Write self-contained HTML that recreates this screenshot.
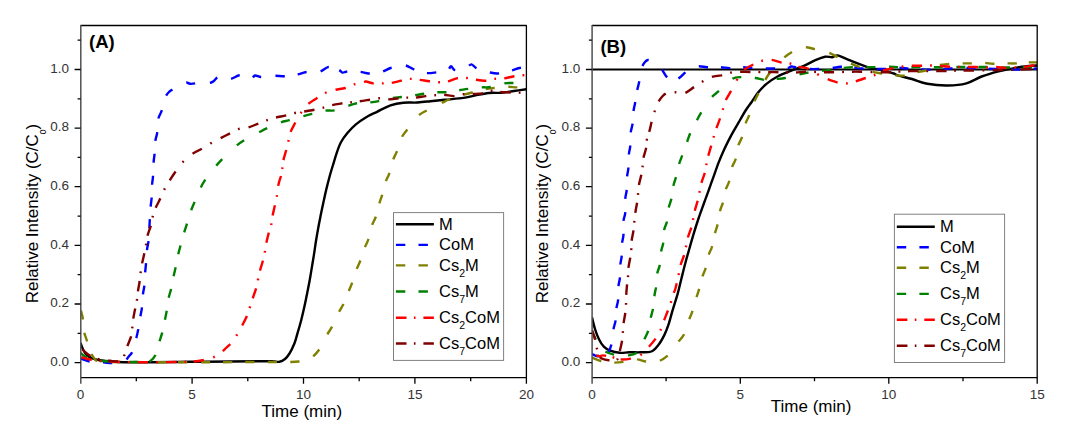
<!DOCTYPE html>
<html><head><meta charset="utf-8"><style>html,body{margin:0;padding:0;background:#fff;}svg{display:block}</style></head>
<body><svg width="1068" height="442" viewBox="0 0 1068 442">
<rect width="1068" height="442" fill="#fff"/>
<clipPath id="ca"><rect x="80.6" y="25.5" width="445.79999999999995" height="352.2"/></clipPath>
<g clip-path="url(#ca)" fill="none" stroke-linejoin="round">
<path d="M80.6 343C81 344.1 82.2 347.7 83.2 349.7C84.2 351.7 85.4 353.8 86.9 355.2C88.4 356.6 90.2 357.6 92.3 358.4C94.4 359.2 96.2 359.7 99.5 360.2C102.8 360.7 108.3 361.2 112.2 361.5C116.1 361.8 116.7 362.1 123 362.2C129.3 362.3 138.8 362.3 150 362.2C161.2 362.1 176.7 361.9 190 361.8C203.3 361.7 219.2 361.6 230 361.5C240.8 361.4 248 361.3 255 361.3C262 361.3 267.9 361.2 272 361.3C276.1 361.4 277.3 362.2 279.5 361.8C281.7 361.4 283.3 360.4 285 359C286.7 357.6 287.9 356 289.5 353.5C291.1 351 292.9 347.2 294.3 343.8C295.7 340.4 296.5 336.7 297.6 332.8C298.8 328.9 300.2 324.1 301.2 320.2C302.2 316.3 303 312.9 303.8 309.3C304.6 305.7 305.4 302 306.1 298.4C306.9 294.8 307.6 291.2 308.3 287.6C309 284 309.7 280.3 310.3 276.7C310.9 273.1 311.5 269.6 312.1 265.9C312.7 262.2 313.3 258.7 314 254.4C314.7 250.1 315.3 244.9 316.1 240.2C316.9 235.5 317.8 230.4 318.6 226C319.4 221.6 320.2 217.9 321 213.8C321.8 209.7 322.7 205.7 323.6 201.6C324.5 197.5 325.3 193.5 326.3 189.4C327.3 185.3 328.3 181.3 329.4 177.2C330.5 173.1 331.8 168.9 333 165C334.2 161.1 335.2 157.3 336.5 153.6C337.8 149.8 339 145.9 340.8 142.5C342.6 139.1 344.9 136 347.4 133C349.9 130 352.8 126.9 355.9 124.3C359 121.7 362.7 119.3 366.2 117.2C369.7 115.1 372.9 113.8 377 111.8C381.1 109.8 386.1 106.9 390.5 105.4C394.9 103.9 398.7 103.2 403.2 102.7C407.7 102.2 413.1 102.8 417.6 102.5C422.1 102.2 425.8 101.7 430.3 101.2C434.8 100.8 439.3 100.3 444.8 99.8C450.3 99.2 458.5 98.6 463.4 97.9C468.3 97.2 470.1 96.4 474.3 95.6C478.5 94.8 484.3 93.5 488.8 93C493.3 92.5 497.2 93.1 501.4 92.8C505.6 92.5 509.8 91.6 514 91C518.2 90.4 524.3 89.5 526.4 89.2" stroke="#000000" stroke-width="2.4"/>
<path d="M80.6 358.4C82.1 358.9 85.9 360.8 89.6 361.5C93.3 362.2 99.3 362.1 103 362.4C106.7 362.6 108.8 363 112 363C115.2 363 119.7 363.1 122 362.6C124.3 362.1 124.8 361.2 126 360C127.2 358.8 128.4 356.9 129.5 355.5C130.6 354.1 131.2 354.5 132.3 351.6C133.4 348.7 135.3 341.8 136.3 338C137.3 334.2 137.6 332.7 138.3 329C139 325.3 139.9 319.2 140.5 315.7C141.1 312.2 141.5 311.5 141.9 307.9C142.3 304.3 142.6 297.6 143 294C143.4 290.4 143.9 289.8 144.3 286.2C144.7 282.6 144.9 276 145.2 272.2C145.5 268.4 145.7 267.2 146 263.5C146.3 259.8 146.6 253.6 147 250C147.4 246.4 148.1 244.1 148.4 241.8C148.7 239.5 148.8 239.7 149 236C149.2 232.3 149.5 224.8 149.8 219.8C150.1 214.8 150.4 209.8 150.7 206.2C151 202.6 151.4 201.6 151.6 198C151.8 194.4 151.9 188.1 152.1 184.5C152.3 180.9 152.8 180 153 176.3C153.2 172.6 153.3 166.1 153.6 162.4C153.8 158.7 154.2 157.9 154.5 154.3C154.8 150.7 155 144.3 155.4 140.7C155.8 137.1 156.8 136.1 157.2 132.6C157.6 129.1 157.3 123.3 158.1 119.6C158.8 115.9 160.5 114.3 161.7 110.6C162.9 106.9 164.1 100.5 165.3 97.4C166.6 94.3 167.8 93.2 169.2 91.8C170.6 90.4 171.7 90.2 173.5 89.2C175.3 88.2 177.9 86.6 180 85.5C182.1 84.4 184.3 82.8 186 82.5C187.7 82.2 188.5 83.6 190 83.8C191.5 84 193 83.8 195 83.4C197 83 199.8 81.6 202 81.5C204.2 81.4 206.7 83 208.5 83C210.3 83 211.4 82.5 213 81.6C214.6 80.7 216 77.9 217.8 77.4C219.6 76.9 221.9 78.2 224 78.5C226.1 78.8 227.9 79.5 230.5 79C233.1 78.5 236.9 75.6 239.5 75.3C242.1 75 243.9 76.5 246 77C248.1 77.5 250.5 78.2 252 78C253.5 77.8 253.5 75.7 255 75.5C256.5 75.3 258.8 76.9 261 77C263.2 77.1 265.7 76.2 268 76C270.3 75.8 272.2 75.7 274.8 75.7C277.4 75.7 281.4 76.2 283.9 76.2C286.4 76.2 287.7 75.8 290 75.5C292.3 75.2 294.9 75 297.5 74.4C300.1 73.9 303 72.6 305.4 72.2C307.8 71.8 309.6 72.1 312 72C314.4 71.9 317.2 72.5 319.9 71.7C322.6 70.9 325.8 67.6 328 67.1C330.2 66.6 331.2 68 333 68.5C334.8 69 337.3 69.2 338.9 69.9C340.5 70.6 341.3 72.3 342.5 72.6C343.7 72.9 344.5 71.9 346.1 71.7C347.7 71.5 349.7 71.5 352 71.5C354.3 71.5 356.9 71.4 359.7 71.7C362.5 72 366.1 73.3 368.7 73.5C371.2 73.7 372.7 73.3 375 73C377.3 72.7 379.7 72.5 382.3 71.7C384.9 70.9 387.9 68.8 390.5 68C393.1 67.2 395.6 67.5 398 67C400.4 66.5 402.5 65 405 65.3C407.5 65.6 410.5 67.9 413 69C415.5 70.1 417.8 71.3 420 72C422.2 72.7 423.9 73 426.3 73.1C428.7 73.2 432.1 72.9 434.5 72.6C436.9 72.3 438.8 72 441 71.5C443.2 71 446.3 70.8 448 69.9C449.7 69 449.9 66.2 451 66.2C452.1 66.2 452.9 69.4 454.4 69.9C455.9 70.5 457.9 70 460 69.5C462.1 69 465.1 67.9 467 67.1C468.9 66.2 470 64.2 471.5 64.4C473 64.6 474.4 67 476.1 68C477.9 69 479.9 69.8 482 70.5C484.1 71.2 486.3 71.7 488.8 72.2C491.3 72.7 494.6 73.5 497 73.5C499.4 73.5 500.8 73 503 72.5C505.2 72 507.8 71.5 510.5 70.8C513.2 70 516.9 68.7 519.5 68C522.1 67.3 525.2 66.8 526.4 66.5" stroke="#0000ff" stroke-width="2.4" stroke-dasharray="0.0 0.4 9.2 13.4 9.2 15.5 9.2 14.6 9.2 12.9 9.2 12.8 9.2 13.2 9.2 12.9 9.2 12.9 9.2 12.6 9.2 12.6 9.2 12.9 9.2 12.7 9.2 13.4 9.2 14.9 9.2 15.4 9.2 15.1 9.2 14.2 9.2 13.7 9.2 14.4 9.2 13.1 9.2 14.2 9.2 11.0 9.2 13.2 9.2 13.7 9.2 14.6 9.2 13.4 9.2 13.7 9.2 14.6 9.2 14.0 9.2 13.5 9.2 801.8"/>
<path d="M80.8 310C81 310.7 81.4 312.4 81.8 314C82.2 315.6 82.6 316.7 83 319.8C83.4 322.9 83.8 329.6 84.3 332.5C84.8 335.4 85.2 335.5 85.7 337C86.2 338.5 86.6 339.8 87.2 341.6C87.8 343.4 88.8 345.9 89.5 348C90.2 350.1 90.8 352.3 91.5 354C92.2 355.7 93.1 356.8 94 358C94.9 359.2 95.2 360.3 97 361C98.8 361.7 101.2 361.8 105 362C108.8 362.2 110.8 362 120 362C129.2 362 143.3 362.2 160 362.2C176.7 362.2 205.8 362.2 220 362.2C234.2 362.2 235.9 362 245.4 362C254.9 362 269.5 362 277 362C284.5 362 287 362.1 290.6 362C294.2 361.9 296.4 361.8 298.8 361.5C301.2 361.2 302.7 361.2 305 360.5C307.3 359.8 310 358.9 312.4 357C314.8 355.1 317.2 352.5 319.6 348.9C322 345.3 324.7 339.1 326.8 335.3C328.9 331.5 330.3 330 332.3 326.2C334.3 322.4 336.7 316.5 338.6 312.7C340.5 308.9 342 307.1 343.7 303.6C345.4 300.1 347.2 295.1 348.6 291.6C350 288.1 350.9 286.3 352.2 282.5C353.5 278.7 355.3 272.6 356.7 269C358.1 265.4 358.9 264.4 360.3 260.8C361.7 257.2 363.4 251.1 364.8 247.5C366.2 243.9 367.3 242.7 368.5 239C369.7 235.3 370.9 228.9 372.1 225.2C373.3 221.5 374.5 220.6 375.7 217C376.9 213.4 378.2 207.1 379.3 203.5C380.4 199.9 380.9 198.9 382 195.3C383.1 191.7 384.5 185.5 385.7 181.8C386.9 178.1 388.1 177 389.3 173.3C390.6 169.6 391.9 163.3 393.2 159.7C394.4 156.1 395.4 155.2 396.8 151.6C398.2 148 399.6 141.8 401.4 138C403.2 134.2 405 132.6 407.7 129C410.4 125.4 414.3 119.5 417.6 116.3C420.9 113.1 423.7 112.2 427.6 110C431.5 107.8 437.3 105.2 441 103.4C444.7 101.6 446.3 100.4 450 99C453.7 97.6 459.6 95.9 463.4 94.8C467.1 93.7 468.9 93.4 472.5 92.5C476.1 91.6 481.6 90 485.2 89.2C488.8 88.5 490.4 88.4 494.2 88C498 87.6 504 86.8 507.8 86.7C511.6 86.6 513.7 87.4 516.8 87.4C519.9 87.5 524.8 87.1 526.4 87" stroke="#808000" stroke-width="2.4" stroke-dasharray="0.0 0.6 9.2 13.2 9.2 13.3 9.2 13.8 9.2 13.8 9.2 13.8 9.2 12.0 9.2 13.5 9.2 12.9 9.2 13.2 9.2 13.2 9.2 13.4 9.2 14.9 9.2 17.0 9.2 16.2 9.2 13.9 9.2 14.4 9.2 14.0 9.2 14.2 9.2 13.6 9.2 14.0 9.2 13.7 9.2 15.1 9.2 18.4 9.2 16.7 9.2 14.6 9.2 13.2 9.2 13.5 9.2 750.9"/>
<path d="M80.6 353C81.5 353.7 83.6 355.8 86 357C88.4 358.2 91 359.2 95 360C99 360.8 104.2 361.2 110 361.5C115.8 361.8 124 361.9 130 362C136 362.1 142.7 362.1 146 362C149.3 361.9 148.2 362.6 149.8 361.5C151.4 360.4 153.9 358.4 155.5 355.1C157.1 351.8 158.3 345.4 159.4 341.6C160.5 337.9 161.3 336.2 162.2 332.6C163.1 329 164.2 323.5 164.9 319.9C165.7 316.3 166.1 314.6 166.7 310.9C167.3 307.2 168 301.5 168.7 297.9C169.4 294.3 170.2 292.8 171 289.2C171.8 285.6 172.8 279.8 173.6 276.2C174.4 272.6 174.8 271.2 175.6 267.5C176.4 263.8 177.5 257.7 178.3 254.1C179.1 250.5 179.5 249.4 180.5 245.8C181.5 242.2 183.1 236.1 184.2 232.4C185.3 228.8 185.8 227.5 186.9 223.9C188 220.3 189.7 214.4 191 210.7C192.3 207 193.1 205.5 194.7 201.7C196.3 197.9 198.7 191.8 200.5 188.1C202.3 184.4 203.1 182.9 205.5 179.4C207.9 175.9 212.1 170.6 215.1 167C218.1 163.4 219.8 161.4 223.3 157.9C226.8 154.4 232.3 149.2 235.9 146.2C239.5 143.2 241.2 142.1 245 139.8C248.8 137.5 254.8 134.6 258.6 132.6C262.4 130.6 263.9 129.7 267.6 128C271.3 126.3 277.4 123.6 281 122.3C284.6 121 285.6 121.2 289.3 120.2C293.1 119.2 299.7 117.1 303.5 116.1C307.3 115 308.7 114.8 312.3 113.9C315.9 113 321.6 111.2 325.3 110.6C329 110 330.5 111.1 334.3 110.3C338.1 109.5 344.1 107.2 347.9 106C351.7 104.8 353.2 103.9 357 103.3C360.8 102.7 366.9 102.8 370.5 102.4C374.1 102.1 374.9 102 378.7 101.2C382.5 100.5 389.4 98.6 393.2 97.9C397 97.2 397.7 97.5 401.3 97C404.9 96.5 411.1 95.7 414.9 95.2C418.7 94.7 420.2 94.3 424 93.8C427.8 93.3 433.8 92.6 437.5 92.3C441.2 92 442.8 92.4 446.4 92.1C450 91.8 455.3 90.8 458.9 90.3C462.5 89.8 464.2 89.4 468 88.9C471.8 88.4 477.7 87.7 481.5 87.4C485.3 87.1 486.8 87.7 490.6 87C494.4 86.3 500.4 84.1 504.2 83.4C508 82.7 509.5 83.2 513.2 83C516.9 82.8 524.2 82.2 526.4 82" stroke="#008000" stroke-width="2.4" stroke-dasharray="0.0 0.0 8.3 13.4 9.2 19.3 9.2 11.6 9.2 14.1 9.2 13.1 9.2 13.0 9.2 13.0 9.2 13.2 9.2 13.5 9.2 13.9 9.2 15.5 9.2 17.6 9.2 19.7 9.2 16.8 9.2 14.9 9.2 14.0 9.2 13.6 9.2 14.3 9.2 13.2 9.2 13.9 9.2 13.2 9.2 13.2 9.2 12.8 9.2 13.5 9.2 13.9 9.2 709.6"/>
<path d="M80.6 357C82.2 357.4 87.3 359 90.5 359.7C93.7 360.4 95.1 360.6 100 361C104.9 361.4 110 361.8 120 362C130 362.2 147.7 362.3 160 362.2C172.3 362.1 186.4 361.9 193.8 361.5C201.2 361.1 201.5 360.3 204.7 359.7C207.9 359.1 210.1 358.8 212.8 357.6C215.5 356.4 218.8 354.1 221 352.5C223.2 350.9 224.2 349.7 226 348C227.8 346.3 229.9 344.8 231.8 342.5C233.7 340.2 235.5 337.1 237.2 334.4C238.9 331.7 240.1 329.4 241.8 326.2C243.5 323 245.8 318.6 247.2 315.4C248.5 312.2 249 310 249.9 307.2C250.8 304.4 251.6 302 252.6 298.8C253.6 295.6 255.3 291.2 256.2 288C257.1 284.8 257.4 282.4 258 279.5C258.6 276.6 259.1 273.9 259.9 270.8C260.7 267.7 262.1 263.9 262.9 260.8C263.7 257.7 264.2 255.2 264.8 252.3C265.4 249.4 265.5 246.9 266.2 243.6C266.9 240.3 268 235.6 268.9 232.4C269.8 229.2 270.7 227 271.3 224.3C271.9 221.6 271.9 219.4 272.5 216.2C273.1 213 274.2 208.5 274.9 205.3C275.6 202.1 276.1 200.6 276.7 197.1C277.3 193.6 277.8 188 278.5 184.4C279.2 180.8 280.6 177.8 281.2 175.3C281.8 172.8 281.9 171.6 282.2 169.2C282.5 166.8 282.5 164.2 283.2 161C283.9 157.8 285.4 153.1 286.3 149.9C287.2 146.7 287.6 144.6 288.3 141.7C289 138.8 289.1 135.8 290.3 132.6C291.5 129.4 293.8 125.5 295.4 122.4C297 119.4 298.2 117.2 300.1 114.3C302 111.4 303.5 108.1 306.6 105.2C309.7 102.3 315.5 99.1 318.8 97C322.1 94.9 323.5 93.7 326.2 92.5C328.9 91.3 332 90.5 335.2 89.8C338.4 89 342 88.9 345.2 88C348.4 87.1 351.3 85.2 354.3 84.3C357.3 83.4 361.4 83 363.3 82.5C365.2 82 364.3 81.3 366 81.5C367.7 81.7 370.6 83.1 373.3 83.4C376 83.7 379.3 83.5 382.3 83.4C385.3 83.3 388.2 83.5 391.4 83C394.6 82.5 398.1 81.4 401.3 80.7C404.5 80 407.4 79.1 410.4 78.9C413.4 78.8 416.2 79.4 419.4 79.8C422.6 80.2 426.2 80.9 429.4 81.3C432.5 81.7 435.4 82.2 438.3 82.2C441.2 82.2 443.8 82.3 447.1 81.6C450.4 80.9 454.7 78.6 458 78C461.3 77.4 463.8 77.8 466.7 78C469.6 78.2 472 79 475.2 79.5C478.4 80 482.8 80.8 486 80.7C489.2 80.6 491.3 79.2 494.2 78.9C497.1 78.6 500 79 503.3 78.6C506.6 78.1 510.9 76.8 514.1 76.2C517.4 75.7 520.8 75.5 522.8 75.3C524.8 75.1 525.8 75 526.4 75" stroke="#ff0000" stroke-width="2.4" stroke-dasharray="0.0 1.0 10.4 8.1 1.8 8.1 10.4 8.0 1.8 8.0 10.4 8.1 1.8 8.1 10.4 7.7 1.8 7.7 10.4 9.6 1.8 9.6 10.4 10.2 1.8 10.2 10.4 8.5 1.8 8.5 10.4 8.2 1.8 8.2 10.4 8.2 1.8 8.2 10.4 7.9 1.8 7.9 10.4 8.9 1.8 8.9 10.4 7.2 1.8 7.2 10.4 8.5 1.8 8.5 10.4 10.7 1.8 10.7 10.4 9.2 1.8 9.2 10.4 8.6 1.8 8.6 10.4 8.1 1.8 8.1 10.4 8.1 1.8 8.1 10.4 8.2 1.8 8.2 10.4 8.2 1.8 8.2 10.4 8.2 1.8 8.2 10.4 8.0 1.8 736.8"/>
<path d="M80.6 347C81.3 347.8 83.1 350.3 85 352C86.9 353.7 89.5 355.8 92 357C94.5 358.2 97 358.9 100 359.5C103 360.1 107 360.5 110 360.8C113 361.1 116.1 361.6 118 361.5C119.9 361.4 120.5 361.5 121.5 360.5C122.5 359.5 123.3 357.6 124.3 355.3C125.2 353 126.1 349.8 127.2 346.6C128.3 343.5 130.2 339.5 131.1 336.4C131.9 333.2 132 330.6 132.3 327.7C132.7 324.8 132.7 322.2 133.2 319C133.7 315.8 134.6 311.6 135.2 308.4C135.8 305.2 136.6 302.5 137 299.7C137.4 296.9 137.5 294.7 137.9 291.6C138.3 288.5 139.2 284.5 139.7 281.3C140.1 278.1 140.2 275.6 140.6 272.6C141 269.6 141.5 266.7 142.1 263.5C142.7 260.3 143.7 256.6 144.3 253.6C145 250.6 145.5 248.3 146 245.4C146.5 242.5 146.6 239.3 147.4 236.1C148.2 232.9 149.8 229.2 150.7 226.1C151.5 223 151.8 220.5 152.5 217.6C153.2 214.7 153.8 212.2 155.2 208.9C156.5 205.6 159.1 201.1 160.6 198C162.1 194.9 162.5 193 163.9 190.3C165.3 187.6 166.8 185 168.8 181.8C170.8 178.6 173.7 174.1 176 170.9C178.3 167.7 179.9 165.2 182.5 162.4C185.1 159.6 188.3 156.6 191.6 154.3C194.9 152 199.2 150.3 202.4 148.5C205.6 146.7 207.7 145.1 210.6 143.4C213.5 141.8 216.3 140.3 219.6 138.6C222.9 136.9 227.3 134.7 230.5 133.1C233.7 131.5 235.7 129.9 238.6 129C241.5 128.1 244.4 128.6 247.7 127.7C251 126.8 255.4 124.7 258.6 123.5C261.8 122.3 263.9 121.3 266.7 120.3C269.5 119.3 272.4 118.4 275.7 117.6C279 116.8 283.1 116.1 286.3 115.3C289.5 114.5 291.7 113.6 294.6 113C297.5 112.4 300.3 112.1 303.6 111.6C306.9 111 311.2 110.3 314.4 109.7C317.6 109.1 319.7 108.7 322.6 107.9C325.5 107.2 328.3 106 331.6 105.2C334.9 104.4 339.3 103.8 342.5 103.3C345.7 102.8 347.7 102.8 350.6 102.4C353.5 102.1 356.5 101.7 359.7 101.2C362.9 100.8 366.4 100.2 369.6 99.7C372.8 99.2 375.7 98.3 378.7 98.3C381.7 98.2 384.4 99.4 387.7 99.4C391 99.4 395.4 98.6 398.6 98.3C401.8 98 403.8 97.7 406.7 97.6C409.6 97.5 412.6 97.8 415.8 97.6C419 97.3 422.6 96.5 425.7 96.1C428.8 95.7 431.5 95.4 434.5 95.2C437.5 95 440.2 94.6 443.5 94.7C446.8 94.8 451.1 96.2 454.4 96.1C457.7 96 460.4 94.6 463.4 94.3C466.4 94 469.3 94.2 472.5 94C475.7 93.8 479.4 94 482.4 93.4C485.4 92.9 487.7 91 490.6 90.7C493.5 90.5 496.3 91.6 499.6 91.9C502.9 92.2 507.3 92.3 510.5 92.5C513.7 92.7 516 92.9 518.6 92.8C521.2 92.7 525.1 92.1 526.4 92" stroke="#800000" stroke-width="2.4" stroke-dasharray="0.0 3.0 10.4 8.1 1.8 8.1 10.4 8.8 1.8 8.8 10.4 8.0 1.8 8.0 10.4 7.8 1.8 7.8 10.4 8.0 1.8 8.0 10.4 8.0 1.8 8.0 10.4 8.5 1.8 8.5 10.4 9.4 1.8 9.4 10.4 11.5 1.8 11.5 10.4 10.0 1.8 10.0 10.4 9.0 1.8 9.0 10.4 8.5 1.8 8.5 10.4 8.3 1.8 8.3 10.4 8.3 1.8 8.3 10.4 7.8 1.8 7.8 10.4 8.3 1.8 8.3 10.4 7.8 1.8 7.8 10.4 8.1 1.8 8.1 10.4 8.3 1.8 8.3 10.4 8.0 1.8 8.0 10.4 8.0 1.8 714.5"/>
</g>
<path d="M80.6 25.5H526.4V377.7H80.6" fill="none" stroke="#000" stroke-width="1.3" stroke-linejoin="round"/>
<line x1="80.8" y1="24.9" x2="80.8" y2="383.7" stroke="#505050" stroke-width="1.5"/>
<path d="M80.6 362.6h-6 M80.6 333.3h-3 M80.6 304.0h-6 M80.6 274.7h-3 M80.6 245.4h-6 M80.6 216.1h-3 M80.6 186.7h-6 M80.6 157.4h-3 M80.6 128.1h-6 M80.6 98.8h-3 M80.6 69.5h-6 M80.6 40.2h-3 M136.3 377.7v3.5 M192.1 377.7v6 M247.8 377.7v3.5 M303.5 377.7v6 M359.2 377.7v3.5 M414.9 377.7v6 M470.7 377.7v3.5 M526.4 377.7v6" stroke="#000" stroke-width="1.3" fill="none"/>
<text x="69.1" y="365.8" text-anchor="end" font-size="13.5" font-family="Liberation Sans, sans-serif" fill="#333">0.0</text>
<text x="69.1" y="307.2" text-anchor="end" font-size="13.5" font-family="Liberation Sans, sans-serif" fill="#333">0.2</text>
<text x="69.1" y="248.6" text-anchor="end" font-size="13.5" font-family="Liberation Sans, sans-serif" fill="#333">0.4</text>
<text x="69.1" y="189.9" text-anchor="end" font-size="13.5" font-family="Liberation Sans, sans-serif" fill="#333">0.6</text>
<text x="69.1" y="131.3" text-anchor="end" font-size="13.5" font-family="Liberation Sans, sans-serif" fill="#333">0.8</text>
<text x="69.1" y="72.7" text-anchor="end" font-size="13.5" font-family="Liberation Sans, sans-serif" fill="#333">1.0</text>
<text x="80.6" y="398.8" text-anchor="middle" font-size="13.5" font-family="Liberation Sans, sans-serif" fill="#333">0</text>
<text x="192.1" y="398.8" text-anchor="middle" font-size="13.5" font-family="Liberation Sans, sans-serif" fill="#333">5</text>
<text x="303.5" y="398.8" text-anchor="middle" font-size="13.5" font-family="Liberation Sans, sans-serif" fill="#333">10</text>
<text x="414.9" y="398.8" text-anchor="middle" font-size="13.5" font-family="Liberation Sans, sans-serif" fill="#333">15</text>
<text x="526.4" y="398.8" text-anchor="middle" font-size="13.5" font-family="Liberation Sans, sans-serif" fill="#333">20</text>
<text x="301.9" y="416.5" text-anchor="middle" font-size="17" font-family="Liberation Sans, sans-serif" fill="#000">Time (min)</text>
<text transform="translate(38.099999999999994,213.5) rotate(-90)" text-anchor="middle" font-size="17" font-family="Liberation Sans, sans-serif" fill="#000">Relative Intensity (C/C<tspan baseline-shift="-7.5" font-size="8.5">0</tspan>)</text>
<text x="89.1" y="47.8" font-size="18.5" font-weight="bold" font-family="Liberation Sans, sans-serif" fill="#000">(A)</text>
<rect x="393.5" y="212.6" width="110.1" height="147.8" fill="#fff" stroke="#808080" stroke-width="1"/>
<line x1="395.9" y1="224.3" x2="433.9" y2="224.3" stroke="#000000" stroke-width="2.4"/>
<text x="439.1" y="229.8" font-size="16.5" font-family="Liberation Sans, sans-serif" fill="#000">M</text>
<line x1="395.9" y1="244.9" x2="433.9" y2="244.9" stroke="#0000ff" stroke-width="2.4" stroke-dasharray="9.4 13.2"/>
<text x="439.1" y="250.4" font-size="16.5" font-family="Liberation Sans, sans-serif" fill="#000">CoM</text>
<line x1="395.9" y1="265.4" x2="433.9" y2="265.4" stroke="#808000" stroke-width="2.4" stroke-dasharray="9.4 13.2"/>
<text x="439.1" y="270.9" font-size="16.5" font-family="Liberation Sans, sans-serif" fill="#000">Cs<tspan baseline-shift="-6" font-size="10.5">2</tspan>M</text>
<line x1="395.9" y1="291.5" x2="433.9" y2="291.5" stroke="#008000" stroke-width="2.4" stroke-dasharray="9.4 13.2"/>
<text x="439.1" y="297.0" font-size="16.5" font-family="Liberation Sans, sans-serif" fill="#000">Cs<tspan baseline-shift="-6" font-size="10.5">7</tspan>M</text>
<line x1="395.9" y1="317.7" x2="433.9" y2="317.7" stroke="#ff0000" stroke-width="2.4" stroke-dasharray="10.6 7.4 1.6 7.9"/>
<text x="439.1" y="323.2" font-size="16.5" font-family="Liberation Sans, sans-serif" fill="#000">Cs<tspan baseline-shift="-6" font-size="10.5">2</tspan>CoM</text>
<line x1="395.9" y1="343.5" x2="433.9" y2="343.5" stroke="#800000" stroke-width="2.4" stroke-dasharray="10.6 7.4 1.6 7.9"/>
<text x="439.1" y="349.0" font-size="16.5" font-family="Liberation Sans, sans-serif" fill="#000">Cs<tspan baseline-shift="-6" font-size="10.5">7</tspan>CoM</text>
<clipPath id="cb"><rect x="591.9" y="25.5" width="445.30000000000007" height="352.2"/></clipPath>
<line x1="591.9" y1="69.4" x2="1037.2" y2="69.4" stroke="#000" stroke-width="2"/>
<g clip-path="url(#cb)" fill="none" stroke-linejoin="round">
<path d="M592 317.4C592.5 319.4 593.9 325.6 595.1 329.3C596.3 333 597.7 336.7 599.1 339.6C600.5 342.5 601.9 344.9 603.8 346.7C605.6 348.5 607.6 349.7 610.2 350.7C612.9 351.7 616.5 352.5 619.7 352.8C622.9 353.1 625.8 352.4 629.2 352.3C632.6 352.2 636.6 352.4 640.3 352.3C644 352.2 648.4 352.7 651.4 351.5C654.4 350.3 656.1 347.9 658.2 345.2C660.4 342.5 662.6 338.5 664.3 335.1C666 331.7 667 329 668.4 324.9C669.8 320.8 671 315.8 672.5 310.7C674 305.6 676 299.6 677.5 294.4C679 289.2 679.9 284.7 681.2 279.5C682.5 274.3 683.9 268.3 685.3 263.2C686.6 258.1 687.9 253.8 689.3 249C690.6 244.2 691.9 239.8 693.4 234.7C694.9 229.6 696.7 223.9 698.5 218.5C700.3 213.1 702.6 207 704.2 202.5C705.8 198 706.8 195.5 708.3 191.3C709.8 187.1 711.7 181.8 713.4 177.1C715.1 172.4 716.8 167.3 718.5 162.9C720.2 158.5 721.6 155.1 723.6 150.7C725.6 146.3 728.2 141.2 730.7 136.4C733.2 131.7 736.3 126.6 738.8 122.2C741.3 117.8 743.7 113.5 745.9 110C748.1 106.5 750 104.4 752 101.5C754 98.6 755.6 95.5 758.1 92.5C760.6 89.5 763.8 86.1 767.1 83.4C770.4 80.7 774.1 78.3 778 76.2C781.9 74.1 786.5 72.5 790.7 70.8C794.9 69.1 799.1 68 803.3 66.2C807.5 64.4 812.4 61.5 816 59.9C819.6 58.3 822.4 57.2 825.1 56.7C827.8 56.2 830.2 57.4 832.3 57.2C834.4 57 835 55 837.7 55.4C840.4 55.8 843.8 58 848.6 59.9C853.4 61.8 860.7 65 866.7 66.8C872.7 68.6 880.3 69.7 884.8 70.8C889.3 71.9 891.5 72.7 893.8 73.5C896.1 74.3 895.5 74.7 898.5 75.6C901.5 76.5 907.2 77.6 912 79C916.8 80.4 921.3 82.7 927.3 83.8C933.2 84.9 941.2 85.6 947.7 85.5C954.2 85.4 960.8 84.8 966.4 83.3C972 81.8 976.2 78.5 981.6 76.5C987 74.5 992.4 73 998.6 71.4C1004.8 69.9 1012.6 68.2 1019 67.2C1025.4 66.2 1034.2 65.8 1037.2 65.5" stroke="#000000" stroke-width="2.4"/>
<path d="M592 354C592.5 354.2 594.1 355.1 595 355.5C595.9 355.9 596.5 356.3 597.5 356.2C598.5 356.1 599.8 355.4 601 355C602.2 354.6 603.4 353.8 604.5 353.5C605.6 353.2 606.6 354.6 607.8 353.1C608.9 351.6 610.5 348.2 611.4 344.4C612.3 340.6 612.6 334.2 613.3 330.1C614 326 615.2 323.5 615.7 319.8C616.2 316.1 616.1 311.2 616.5 307.9C616.9 304.6 617.8 303.6 618.1 300C618.4 296.4 618.2 289.7 618.5 286C618.8 282.3 619.6 281.5 619.9 277.9C620.2 274.3 620.1 267.9 620.4 264.3C620.7 260.7 621.4 259.8 621.7 256.2C622 252.6 621.9 246.2 622.2 242.6C622.5 239 623.3 238 623.5 234.4C623.7 230.8 623.2 224.5 623.5 220.9C623.8 217.3 625 216.4 625.3 212.7C625.6 209 625.1 202.5 625.3 198.8C625.5 195.1 626.3 194.3 626.6 190.6C626.9 186.9 626.8 180.5 627.1 176.7C627.4 172.9 628.1 171.7 628.4 168C628.7 164.3 628.6 158 628.9 154.4C629.2 150.8 629.9 149.9 630.2 146.3C630.5 142.7 630.3 136.4 630.7 132.7C631.1 129 632 127.7 632.5 124.2C633 120.7 632.9 115.1 633.4 111.5C633.9 107.9 634.6 106 635.2 102.5C635.8 99 636.4 94.2 637.1 90.7C637.8 87.2 638.4 85.6 639.2 81.7C640 77.8 641.1 70.5 642.1 67.2C643.1 63.9 644 63.2 645 62C646 60.8 646.9 60.2 647.9 60C648.9 59.8 649.6 60.3 651 61C652.4 61.7 654.2 62.7 656 64C657.8 65.3 659.7 66.8 661.5 69C663.3 71.2 665.1 75.2 666.9 77.1C668.6 79 670.2 80.2 672 80.5C673.8 80.8 675.6 80.3 677.8 79C680 77.7 683 74.4 685 72.6C687 70.8 687.7 69 690 68C692.3 67 695.8 66.4 698.6 66.3C701.4 66.2 704.1 67 706.7 67.2C709.3 67.4 711.7 67.5 714 67.5C716.3 67.5 717.7 67.1 720.3 67.2C722.9 67.3 726.8 68 729.4 68.1C732 68.2 733.7 68.2 736 68C738.3 67.8 740.5 67.2 743 67.2C745.5 67.2 748.4 67.8 750.9 68C753.4 68.2 755.6 68.4 758 68.5C760.4 68.6 762.7 68.5 765.3 68.5C767.9 68.5 771 68.5 773.5 68.5C776 68.5 777.6 68.6 780 68.5C782.4 68.4 786.2 68.3 788 68C789.8 67.7 790 66.7 791 66.5C792 66.3 792.5 66.7 794.3 67C796.1 67.3 799.4 68.2 802 68.5C804.6 68.8 807.1 68.9 809.7 69C812.3 69.1 815.2 69.1 817.8 69C820.3 68.9 822.6 68.7 825 68.5C827.4 68.3 829.7 68.3 832.3 68C834.9 67.7 838 67 840.5 66.8C843 66.6 844.8 66.9 847 67C849.2 67.1 851.5 67.2 854 67.5C856.5 67.8 859.5 68.2 862.2 68.5C864.9 68.8 867.6 68.9 870 69C872.4 69.1 874.1 69 876.6 69C879.1 69 882.6 69.1 884.8 69C887 68.9 887.9 68.8 890 68.5C892.1 68.2 894.8 67.5 897.6 67.5C900.4 67.5 903.3 68.2 907 68.5C910.7 68.8 915.3 69.3 920 69.5C924.7 69.7 930 69.7 935 69.5C940 69.3 945 68.8 950 68.5C955 68.2 960 68 965 68C970 68 975 68.3 980 68.5C985 68.7 990 68.8 995 69C1000 69.2 1005.8 69.4 1010 69.5C1014.2 69.6 1015.5 69.7 1020 69.5C1024.5 69.3 1034.3 68.7 1037.2 68.5" stroke="#0000ff" stroke-width="2.4" stroke-dasharray="0.0 0.0 7.9 9.3 9.2 15.3 9.2 12.1 9.2 13.0 9.2 12.6 9.2 12.7 9.2 12.7 9.2 13.1 9.2 13.3 9.2 12.9 9.2 12.9 9.2 12.5 9.2 12.0 9.2 15.5 9.2 16.6 9.2 12.9 9.2 15.4 9.2 13.1 9.2 13.0 9.2 13.5 9.2 12.6 9.2 13.8 9.2 13.5 9.2 12.6 9.2 13.3 9.2 13.6 9.2 12.8 9.2 12.8 9.2 13.9 9.2 13.0 9.2 13.2 9.2 13.4 4.4 820.2"/>
<path d="M592 357.5C593.5 358.1 598.2 360.2 600.7 361C603.2 361.8 604.8 361.7 607 362C609.2 362.3 611.3 362.6 614.1 362.6C616.9 362.6 621 362.2 623.6 361.8C626.2 361.4 627.8 360.4 630 360C632.2 359.6 634.5 359.1 637.1 359.4C639.7 359.6 643.3 361.1 645.8 361.5C648.3 361.9 649.8 362.1 652 362C654.2 361.9 656.6 362.1 659.3 361C662 359.9 665.9 357.2 668 355.4C670.1 353.6 670.4 352.1 672 350C673.6 347.9 675.8 345.1 677.8 342.5C679.8 339.9 682.3 337.9 684.1 334.3C685.9 330.7 687.2 324.6 688.6 320.8C690 317 691.1 315.3 692.3 311.7C693.5 308.1 694.8 302.5 695.9 299C697 295.5 697.5 294.6 698.6 290.9C699.7 287.2 701 280.8 702.2 277C703.4 273.2 704.7 271.5 705.8 267.9C706.9 264.3 707.5 258.8 708.6 255.2C709.7 251.6 711.2 249.8 712.2 246.2C713.2 242.6 714 237.1 714.9 233.5C715.8 229.9 716.7 228.4 717.6 224.5C718.5 220.6 719.4 213.7 720.3 210C721.2 206.3 722.1 205.8 723 202.4C723.9 199 724.6 193.3 725.7 189.7C726.8 186.1 728.3 184.5 729.4 180.7C730.5 176.9 731 170.7 732.1 167.1C733.2 163.5 734.7 162.6 735.7 159C736.8 155.4 737.4 149 738.4 145.4C739.4 141.8 740.8 140.8 742 137.2C743.2 133.5 744.4 127.2 745.6 123.5C746.8 119.8 747.8 118.9 749.2 115.3C750.7 111.7 752.7 105.6 754.3 101.8C755.9 98 757 96.4 758.8 92.7C760.6 89 763.4 83.2 765.3 79.8C767.1 76.4 768.1 75.1 769.9 72.6C771.7 70.1 773.8 67.4 776 65C778.2 62.6 780.6 60.3 783.4 58.1C786.1 55.9 789.9 53.3 792.5 51.8C795.1 50.3 796.8 49.8 799 49C801.2 48.2 803.5 47.2 806 47.2C808.5 47.2 811.7 48.5 814.2 49C816.7 49.5 818.6 49.9 821 50.5C823.4 51.1 825.9 51.6 828.7 52.7C831.5 53.8 835.2 55.9 837.7 57.2C840.2 58.5 841.9 59.5 844 60.5C846.1 61.5 847.8 62.4 850.4 63.5C853 64.6 856.9 66.1 859.5 67.1C862.1 68.1 863.9 68.7 866 69.5C868.1 70.3 869.6 71 872.1 71.7C874.6 72.4 878.6 73 881.2 73.5C883.9 74 885.7 74.2 888 74.5C890.3 74.8 892.2 75.1 894.8 75.3C897.4 75.5 901.1 75.8 903.6 75.6C906.1 75.4 907.7 74.6 910 74C912.3 73.4 914.6 72.8 917.2 72.2C919.8 71.6 923.1 71.3 925.6 70.5C928.1 69.7 929.7 68.4 932 67.5C934.3 66.6 936.6 65.7 939.2 65.1C941.8 64.5 945.1 64.3 947.7 64.1C950.3 63.9 952.5 63.8 955 63.7C957.5 63.6 960.4 63.5 963 63.4C965.6 63.3 968.1 63.5 970.6 63.4C973.1 63.3 975.6 63.1 978 63C980.4 62.9 982.5 62.8 985 62.9C987.5 63 990.2 63.7 992.7 63.8C995.2 63.9 997.6 63.6 1000 63.5C1002.4 63.4 1004.4 63.4 1007 63.4C1009.6 63.4 1013.1 63.5 1015.6 63.4C1018.1 63.3 1019.8 63.2 1022 63C1024.2 62.8 1026.6 62.5 1029.1 62.4C1031.6 62.3 1035.8 62.4 1037.2 62.4" stroke="#808000" stroke-width="2.4" stroke-dasharray="0.0 0.7 9.2 13.2 9.2 13.9 9.2 14.1 9.2 17.9 9.2 15.7 9.2 14.0 9.2 12.5 9.2 13.6 9.2 13.3 9.2 13.3 9.2 13.6 9.2 14.0 9.2 13.6 9.2 13.8 9.2 14.6 9.2 14.8 9.2 20.6 9.2 14.9 9.2 15.0 9.2 14.9 9.2 14.2 9.2 13.7 9.2 13.3 9.2 14.5 9.2 13.5 9.2 13.4 9.2 13.2 9.2 12.0 8.8 766.3"/>
<path d="M592 331C592.6 332.4 594.6 337.1 595.9 339.6C597.2 342.1 598.4 344 600 346C601.6 348 603 350.1 605.4 351.5C607.8 352.9 611.7 354 614.1 354.7C616.5 355.4 617.6 355.4 620 355.5C622.4 355.6 625.7 355.8 628.4 355.4C631.1 355 634.4 354.4 636.3 353.1C638.2 351.8 638.7 349.8 640 347.5C641.3 345.2 642.8 342.4 644.2 339.6C645.6 336.8 647.1 334.5 648.2 330.9C649.3 327.3 649.8 321.9 650.6 318.2C651.4 314.5 652.4 312.5 653 308.7C653.6 304.9 654.1 298.5 654.5 295.4C654.9 292.3 655.2 291.4 655.5 290C655.8 288.6 655.8 289.7 656.1 286.9C656.4 284.1 656.7 276.9 657.3 273.3C657.9 269.7 659.1 268.8 659.7 265.2C660.3 261.6 660.5 255.4 661.1 251.6C661.7 247.8 662.8 246.2 663.3 242.6C663.8 239 663.6 233.4 664.2 229.9C664.8 226.4 666.1 225.5 666.9 221.8C667.6 218.1 668 211.6 668.7 207.8C669.5 204 670.6 202.4 671.4 198.8C672.2 195.2 672.5 189.7 673.3 186.1C674.1 182.5 675 180.7 676 177.1C677 173.5 678 168 679 164.4C680 160.8 681 158.9 682.3 155.3C683.6 151.7 685.4 146.5 686.8 142.7C688.2 138.9 688.8 136.4 690.5 132.7C692.2 129 695 124 696.8 120.6C698.6 117.2 698.9 116.2 701.3 112.4C703.6 108.7 707.9 101.7 710.9 98.1C713.9 94.5 715.5 94.1 719 90.9C722.5 87.7 728.4 81.3 732.1 79C735.8 76.7 738.5 77.3 741.1 77.1C743.8 76.9 745.6 77.8 748 78C750.4 78.2 752.8 77.7 755.4 78C758 78.3 761.1 79.5 763.5 79.8C765.9 80 767.7 79.7 770 79.5C772.3 79.3 774.6 79.2 777.1 78.9C779.6 78.7 782.7 78.5 785.2 78C787.7 77.5 789.6 76.6 792 76C794.4 75.4 797.1 75 799.7 74.4C802.4 73.8 805.4 73.1 807.9 72.6C810.4 72.1 812.6 71.8 815 71.5C817.4 71.2 819.8 71.1 822.4 70.8C825 70.5 828.1 70.2 830.5 69.9C832.9 69.6 834.7 69.3 837 69C839.3 68.7 841.6 68.3 844.1 68C846.6 67.7 848.4 67.2 852.2 67.1C856 66.9 862.9 67.1 866.7 67.1C870.5 67.1 871 67.1 874.8 67.1C878.6 67 885.5 66.8 889.3 66.8C893.1 66.8 893.9 67 897.5 67.1C901.1 67.2 907.2 67.2 911 67.2C914.8 67.2 916.3 67 920 67C923.7 67 929.3 67.2 933 67.2C936.7 67.2 938.3 67.2 942 67.2C945.7 67.2 951.2 67 955 67C958.8 67 961.2 67 965 67C968.8 67 974.3 67 978 67C981.7 67 983.3 66.9 987 67C990.7 67.1 996.3 67.4 1000 67.5C1003.7 67.6 1005.3 67.5 1009 67.5C1012.7 67.5 1018.2 67.3 1022 67.2C1025.8 67.1 1029.5 67.1 1032 67C1034.5 66.9 1036.3 66.8 1037.2 66.8" stroke="#008000" stroke-width="2.4" stroke-dasharray="0.0 0.1 9.2 15.5 9.2 14.0 9.2 15.5 9.2 13.4 9.2 12.6 9.2 13.8 9.2 13.3 9.2 12.5 9.2 13.9 9.2 13.0 9.2 13.4 9.2 14.4 9.2 14.5 9.2 18.7 9.2 18.1 9.2 13.6 9.2 12.9 9.2 14.1 9.2 13.7 9.2 12.7 9.2 13.4 9.2 13.5 9.2 13.1 9.2 13.2 9.2 13.3 9.2 12.9 9.2 13.4 9.2 12.7 9.2 761.5"/>
<path d="M592 354C593.2 354.4 597.3 356 599.1 356.2C600.9 356.4 600.9 355.3 603 355.4C605.1 355.5 608.9 356.3 611.8 357C614.7 357.7 617.3 359.1 620.5 359.4C623.7 359.7 627.6 359.2 630.8 358.6C634 358 636.6 357.7 639.5 355.8C642.4 353.9 645.4 350.5 648.2 347.5C651 344.5 654 341 656.1 338C658.2 335 659.6 332.2 660.9 329.3C662.2 326.4 662.8 323.8 664 320.6C665.2 317.4 666.9 313.4 668 310.3C669.1 307.2 670 305.1 670.9 302.3C671.8 299.5 672.6 295.7 673.3 293.6C674 291.6 674.4 291.9 675 290C675.6 288.1 676.3 285 676.9 282.4C677.5 279.8 678.1 277.2 678.7 274.3C679.3 271.4 679.6 268.4 680.5 265.2C681.4 262 683.2 258.2 684.1 255.2C685 252.2 685.3 249.9 685.9 247.1C686.5 244.2 686.8 241.4 687.7 238.1C688.6 234.8 690.5 230.4 691.4 227.2C692.3 224 692.6 221.9 693.2 219C693.8 216.1 694.2 213.1 695 210C695.8 206.9 697 203.6 697.7 200.6C698.5 197.6 698.9 195 699.5 192.1C700.1 189.2 700.4 186.7 701.3 183.4C702.2 180.1 704 175.7 704.9 172.5C705.8 169.3 705.8 167.1 706.4 164.4C707 161.7 707.4 159.4 708.2 156.2C709 153 710.4 148.6 711.3 145.4C712.2 142.2 712.7 140.1 713.6 137.2C714.5 134.3 715.4 131.1 716.5 128C717.6 124.9 719 121.6 720 118.5C721 115.4 721.9 112.5 722.8 109.6C723.7 106.6 724.1 104 725.5 100.8C726.9 97.6 729.7 93.4 731.4 90.4C733.1 87.4 734.2 85.6 735.7 82.6C737.2 79.6 738.5 74.9 740.2 72.6C741.9 70.2 743.8 69.9 746 68.5C748.2 67.1 751 65.7 753.6 64.4C756.2 63.1 758.7 61.5 761.7 60.8C764.7 60 768.4 59.6 771.7 59.9C775 60.2 778.5 62 781.6 62.6C784.7 63.2 787.4 62.8 790.3 63.5C793.2 64.2 795.9 66 798.8 66.8C801.7 67.6 804.7 67.3 807.9 68.6C811.1 69.9 814.6 72.7 817.8 74.4C821 76.1 823.6 77.6 826.9 78.9C830.2 80.2 834.4 81.8 837.7 82.5C841 83.2 843.9 83.6 846.8 83.4C849.7 83.2 851.7 82.5 854.9 81.6C858.1 80.7 862.6 79 865.8 78C869 77 870.7 76.6 873.9 75.3C877.1 74 880.6 71.4 885 70C889.4 68.6 895.5 67.7 900 67C904.5 66.3 908.6 66 912 65.8C915.4 65.6 917.5 65.8 920.5 65.8C923.5 65.8 926.9 65.5 930 65.5C933.1 65.5 936 65.6 939.2 65.8C942.4 66 946.3 66.6 949.4 66.8C952.5 67 955 67 958 67C961 67 964.1 67 967.2 67C970.3 67 973.4 66.9 976.5 67C979.6 67.1 982.8 67.5 986 67.5C989.2 67.5 992.8 66.9 996 67C999.2 67.1 1002.4 67.9 1005.4 68C1008.4 68.1 1011.2 67.6 1014 67.5C1016.8 67.4 1019.3 67.5 1022.4 67.2C1025.5 66.9 1030 65.9 1032.5 65.5C1035 65.1 1036.4 65.1 1037.2 65" stroke="#ff0000" stroke-width="2.4" stroke-dasharray="0.0 4.3 10.4 6.5 1.8 6.5 10.4 10.2 1.8 10.2 10.4 9.3 1.8 9.3 10.4 8.3 1.8 8.3 10.4 8.4 1.8 8.4 10.4 8.2 1.8 8.2 10.4 7.7 1.8 7.7 10.4 8.3 1.8 8.3 10.4 7.9 1.8 7.9 10.4 8.3 1.8 8.3 10.4 8.7 1.8 8.7 10.4 11.9 1.8 11.9 10.4 8.7 1.8 8.7 10.4 7.9 1.8 7.9 10.4 9.9 1.8 9.9 10.4 8.4 1.8 8.4 10.4 8.5 1.8 8.5 10.4 8.5 1.8 8.5 10.4 7.9 1.8 7.9 10.4 7.9 1.8 7.9 10.4 8.1 1.8 8.1 10.4 8.0 1.8 8.0 10.4 761.3"/>
<path d="M592 330C592.5 331.6 594.3 336.4 595.1 339.6C595.9 342.8 596.3 346.3 597 349C597.7 351.7 598.3 354.4 599.1 356C599.9 357.6 600.4 357.9 602 358.6C603.6 359.3 606.6 360 608.6 360.2C610.6 360.4 612.5 360.1 614 360C615.5 359.9 616.3 360.8 617.3 359.4C618.2 358 618.9 354.7 619.7 351.5C620.5 348.3 621.6 343.7 622.1 340.4C622.6 337.1 622.6 334.6 622.9 331.7C623.1 328.8 623.2 326 623.6 323C624 320 624.8 316.6 625.2 313.5C625.6 310.4 625.8 307.4 626 304.4C626.2 301.4 626 298.8 626.2 295.4C626.4 292 626.8 287.3 627.1 284.2C627.4 281.1 627.8 279.7 628 277C628.2 274.3 628 271.1 628.4 267.9C628.8 264.7 629.7 261.2 630.2 258C630.7 254.8 631.1 251.8 631.3 248.9C631.5 246 631.2 243.8 631.6 240.8C632 237.8 633 234 633.4 230.8C633.8 227.6 633.9 225.1 634.3 221.8C634.7 218.5 635.1 214.2 635.6 211C636.1 207.8 636.7 205.2 637.1 202.4C637.5 199.6 637.7 197.2 638 194.3C638.3 191.4 638.4 188.4 638.9 185.2C639.4 182 640.6 178.2 641.2 175.2C641.8 172.2 642.1 169.9 642.5 167.1C642.9 164.2 642.8 161.3 643.4 158.1C644 154.9 645.5 151.3 646.1 148.1C646.7 144.9 646.4 142 647 139C647.6 136 649 132.8 649.7 130C650.5 127.2 650.7 125.3 651.5 122.4C652.3 119.5 653.2 115.7 654.3 112.4C655.4 109.1 655.9 105.7 657.9 102.5C659.9 99.3 663.1 95.1 666 93.4C668.9 91.7 672 92.2 675 92.2C678 92.2 680.9 94.2 684.1 93.4C687.3 92.6 691.1 89 694.1 87.1C697.1 85.1 699.3 83.4 702.2 81.7C705.1 80 708.1 78.2 711.3 77.1C714.5 76 718 76 721.2 75.3C724.4 74.5 727.3 73.2 730.3 72.6C733.3 72 736 71.8 739.3 71.7C742.6 71.6 745.4 71.9 750 72C754.6 72.1 762.3 72.2 767 72.2C771.7 72.2 773.3 72.1 778 72.2C782.7 72.3 790.5 72.7 795 72.6C799.5 72.5 800.3 71.8 805 71.7C809.7 71.6 818.3 72.1 823 72.2C827.7 72.3 828.3 72.3 833 72.2C837.7 72.1 846.3 71.8 851 71.7C855.7 71.6 856.3 71.6 861 71.7C865.7 71.8 874.2 72.1 879 72.2C883.8 72.3 886.5 72.3 890 72.2C893.5 72.1 895.8 71.7 900 71.5C904.2 71.3 910 71.1 915 71C920 70.9 925 71 930 71C935 71 940 71.1 945 71C950 70.9 955 70.6 960 70.5C965 70.4 970 70.6 975 70.5C980 70.4 985 70.1 990 70C995 69.9 1000 70.1 1005 70C1010 69.9 1014.6 69.7 1020 69.5C1025.4 69.3 1034.3 69.1 1037.2 69" stroke="#800000" stroke-width="2.4" stroke-dasharray="0.0 0.0 10.2 8.1 1.8 8.1 10.4 7.6 1.8 7.6 10.4 7.9 1.8 7.9 10.4 8.2 1.8 8.2 10.4 7.4 1.8 7.4 10.4 7.6 1.8 7.6 10.4 7.9 1.8 7.9 10.4 8.0 1.8 8.0 10.4 7.7 1.8 7.7 10.4 7.2 1.8 7.2 10.4 10.0 1.8 10.0 10.4 9.2 1.8 9.2 10.4 9.4 1.8 9.4 10.4 8.3 1.8 8.3 10.4 7.9 1.8 7.9 10.4 7.8 1.8 7.8 10.4 7.9 1.8 7.9 10.4 7.9 1.8 7.9 10.4 8.3 1.8 8.3 10.4 7.6 1.8 7.6 10.4 8.0 1.8 8.0 10.4 7.6 1.8 7.6 10.4 8.5 1.8 8.5 10.4 8.0 1.8 8.0 10.4 797.3"/>
</g>
<path d="M591.9 25.5H1037.2V377.7H591.9" fill="none" stroke="#000" stroke-width="1.3" stroke-linejoin="round"/>
<line x1="592.1" y1="24.9" x2="592.1" y2="383.7" stroke="#505050" stroke-width="1.5"/>
<path d="M591.9 362.6h-6 M591.9 333.3h-3 M591.9 304.0h-6 M591.9 274.7h-3 M591.9 245.4h-6 M591.9 216.1h-3 M591.9 186.7h-6 M591.9 157.4h-3 M591.9 128.1h-6 M591.9 98.8h-3 M591.9 69.5h-6 M591.9 40.2h-3 M666.1 377.7v3.5 M740.3 377.7v6 M814.5 377.7v3.5 M888.8 377.7v6 M963.0 377.7v3.5 M1037.2 377.7v6" stroke="#000" stroke-width="1.3" fill="none"/>
<text x="580.4" y="365.8" text-anchor="end" font-size="13.5" font-family="Liberation Sans, sans-serif" fill="#333">0.0</text>
<text x="580.4" y="307.2" text-anchor="end" font-size="13.5" font-family="Liberation Sans, sans-serif" fill="#333">0.2</text>
<text x="580.4" y="248.6" text-anchor="end" font-size="13.5" font-family="Liberation Sans, sans-serif" fill="#333">0.4</text>
<text x="580.4" y="189.9" text-anchor="end" font-size="13.5" font-family="Liberation Sans, sans-serif" fill="#333">0.6</text>
<text x="580.4" y="131.3" text-anchor="end" font-size="13.5" font-family="Liberation Sans, sans-serif" fill="#333">0.8</text>
<text x="580.4" y="72.7" text-anchor="end" font-size="13.5" font-family="Liberation Sans, sans-serif" fill="#333">1.0</text>
<text x="591.9" y="398.8" text-anchor="middle" font-size="13.5" font-family="Liberation Sans, sans-serif" fill="#333">0</text>
<text x="740.3" y="398.8" text-anchor="middle" font-size="13.5" font-family="Liberation Sans, sans-serif" fill="#333">5</text>
<text x="888.8" y="398.8" text-anchor="middle" font-size="13.5" font-family="Liberation Sans, sans-serif" fill="#333">10</text>
<text x="1037.2" y="398.8" text-anchor="middle" font-size="13.5" font-family="Liberation Sans, sans-serif" fill="#333">15</text>
<text x="811.1" y="411.9" text-anchor="middle" font-size="17" font-family="Liberation Sans, sans-serif" fill="#000">Time (min)</text>
<text transform="translate(547.9,213.5) rotate(-90)" text-anchor="middle" font-size="17" font-family="Liberation Sans, sans-serif" fill="#000">Relative Intensity (C/C<tspan baseline-shift="-7.5" font-size="8.5">0</tspan>)</text>
<text x="600.4" y="52.8" font-size="18.5" font-weight="bold" font-family="Liberation Sans, sans-serif" fill="#000">(B)</text>
<rect x="894.4" y="214.2" width="110.2" height="148.3" fill="#fff" stroke="#808080" stroke-width="1"/>
<line x1="896.8" y1="226.7" x2="934.8" y2="226.7" stroke="#000000" stroke-width="2.4"/>
<text x="940.0" y="232.2" font-size="16.5" font-family="Liberation Sans, sans-serif" fill="#000">M</text>
<line x1="896.8" y1="247.2" x2="934.8" y2="247.2" stroke="#0000ff" stroke-width="2.4" stroke-dasharray="9.4 13.2"/>
<text x="940.0" y="252.7" font-size="16.5" font-family="Liberation Sans, sans-serif" fill="#000">CoM</text>
<line x1="896.8" y1="267.8" x2="934.8" y2="267.8" stroke="#808000" stroke-width="2.4" stroke-dasharray="9.4 13.2"/>
<text x="940.0" y="273.3" font-size="16.5" font-family="Liberation Sans, sans-serif" fill="#000">Cs<tspan baseline-shift="-6" font-size="10.5">2</tspan>M</text>
<line x1="896.8" y1="293.9" x2="934.8" y2="293.9" stroke="#008000" stroke-width="2.4" stroke-dasharray="9.4 13.2"/>
<text x="940.0" y="299.4" font-size="16.5" font-family="Liberation Sans, sans-serif" fill="#000">Cs<tspan baseline-shift="-6" font-size="10.5">7</tspan>M</text>
<line x1="896.8" y1="319.7" x2="934.8" y2="319.7" stroke="#ff0000" stroke-width="2.4" stroke-dasharray="10.6 7.4 1.6 7.9"/>
<text x="940.0" y="325.2" font-size="16.5" font-family="Liberation Sans, sans-serif" fill="#000">Cs<tspan baseline-shift="-6" font-size="10.5">2</tspan>CoM</text>
<line x1="896.8" y1="345.8" x2="934.8" y2="345.8" stroke="#800000" stroke-width="2.4" stroke-dasharray="10.6 7.4 1.6 7.9"/>
<text x="940.0" y="351.3" font-size="16.5" font-family="Liberation Sans, sans-serif" fill="#000">Cs<tspan baseline-shift="-6" font-size="10.5">7</tspan>CoM</text>
</svg></body></html>
